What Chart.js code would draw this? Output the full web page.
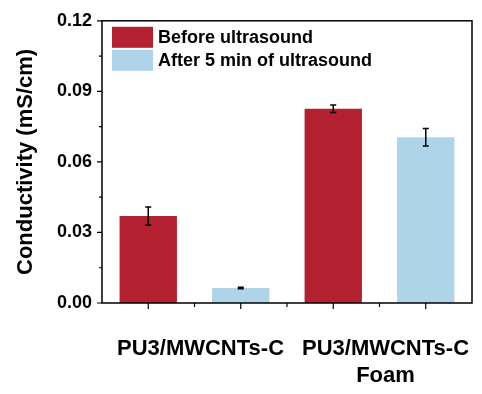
<!DOCTYPE html>
<html lang="en">
<head>
  <meta charset="UTF-8" />
  <title>Conductivity before and after ultrasound</title>
  <script src="https://cdn.jsdelivr.net/npm/chart.js"></script>
  <style>
    body {
      margin: 0;
      background: #ffffff;
    }
    canvas {
      display: block;
    }
  </style>
</head>
<body>
  <canvas id="condChart" width="482" height="394"></canvas>

  <script>
    // sample groups (second one wraps onto two lines)
    const categories = ["PU3/MWCNTs-C", ["PU3/MWCNTs-C", "Foam"]];
    const seriesNames = ["Before ultrasound", "After 5 min of ultrasound"];
    const beforeValues = [0.037, 0.0826];
    const beforeErrors = [0.0038, 0.0016];
    const afterValues = [0.0064, 0.0705];
    const afterErrors = [0.0003, 0.0037];
    const yTicks = [0, 0.03, 0.06, 0.09, 0.12];

    const FONT = "'Liberation Sans', Arial, sans-serif";

    // box around the plot plus the small outward tick marks
    const framePlugin = {
      id: "frame",
      afterDraw(chart) {
        const { ctx, chartArea: a, scales } = chart;
        ctx.save();
        ctx.strokeStyle = "#000";
        ctx.lineWidth = 1.5;
        ctx.strokeRect(a.left, a.top, a.right - a.left, a.bottom - a.top);

        ctx.lineWidth = 1.2;
        ctx.beginPath();
        // y: major ticks at labels, minor in between
        yTicks.forEach((v, i) => {
          const y = scales.y.getPixelForValue(v);
          ctx.moveTo(a.left - 5, y);
          ctx.lineTo(a.left, y);
          if (i < yTicks.length - 1) {
            const ym = scales.y.getPixelForValue((v + yTicks[i + 1]) / 2);
            ctx.moveTo(a.left - 3, ym);
            ctx.lineTo(a.left, ym);
          }
        });
        // x: major ticks under each bar, minor between them
        const centers = [];
        chart.data.datasets.forEach((ds, i) => {
          chart.getDatasetMeta(i).data.forEach(bar => centers.push(bar.x));
        });
        centers.sort((p, q) => p - q);
        centers.forEach((x, i) => {
          ctx.moveTo(x, a.bottom);
          ctx.lineTo(x, a.bottom + 6);
          if (i < centers.length - 1) {
            const xm = (x + centers[i + 1]) / 2;
            ctx.moveTo(xm, a.bottom);
            ctx.lineTo(xm, a.bottom + 4);
          }
        });
        ctx.stroke();
        ctx.restore();
      }
    };

    // error bars drawn from the data arrays through the y scale
    const errorBarPlugin = {
      id: "errorBars",
      afterDatasetsDraw(chart) {
        const { ctx, scales } = chart;
        ctx.save();
        ctx.strokeStyle = "#000";
        ctx.lineWidth = 1.5;
        chart.data.datasets.forEach((ds, i) => {
          chart.getDatasetMeta(i).data.forEach((bar, j) => {
            const v = ds.data[j];
            const e = ds.errors[j];
            const yTop = scales.y.getPixelForValue(v + e);
            const yBot = scales.y.getPixelForValue(v - e);
            ctx.beginPath();
            ctx.moveTo(bar.x, yTop);
            ctx.lineTo(bar.x, yBot);
            ctx.moveTo(bar.x - 3, yTop);
            ctx.lineTo(bar.x + 3, yTop);
            ctx.moveTo(bar.x - 3, yBot);
            ctx.lineTo(bar.x + 3, yBot);
            ctx.stroke();
          });
        });
        ctx.restore();
      }
    };

    // legend tucked into the top-left corner of the plot
    const insideLegend = {
      id: "insideLegend",
      afterDraw(chart) {
        const { ctx, chartArea: a } = chart;
        ctx.save();
        ctx.font = "bold 18px " + FONT;
        ctx.textBaseline = "middle";
        chart.data.datasets.forEach((ds, i) => {
          const y = a.top + 6 + i * 23;
          ctx.fillStyle = ds.backgroundColor;
          ctx.fillRect(a.left + 10, y, 41, 21);
          ctx.fillStyle = "#000";
          ctx.fillText(ds.label, a.left + 56, y + 11);
        });
        ctx.restore();
      }
    };

    new Chart(document.getElementById("condChart"), {
      type: "bar",
      data: {
        labels: categories,
        datasets: [
          {
            label: seriesNames[0],
            data: beforeValues,
            errors: beforeErrors,
            backgroundColor: "#b3202f"
          },
          {
            label: seriesNames[1],
            data: afterValues,
            errors: afterErrors,
            backgroundColor: "#add4e8"
          }
        ]
      },
      options: {
        responsive: false,
        devicePixelRatio: 1,
        animation: false,
        categoryPercentage: 1,
        barPercentage: 0.62,
        layout: { padding: { top: 13, right: 10, left: 0, bottom: 0 } },
        plugins: {
          legend: { display: false },
          tooltip: { enabled: false }
        },
        scales: {
          x: {
            grid: { display: false, drawTicks: false },
            border: { display: false },
            ticks: {
              color: "#000",
              padding: 33,
              labelOffset: 6,
              maxRotation: 0,
              autoSkip: false,
              font: { family: FONT, size: 22, weight: "bold" }
            },
            afterFit(scale) {
              scale.height = 91;
              // long bottom labels may spill past the plot edges
              scale.paddingLeft = 0;
              scale.paddingRight = 0;
            }
          },
          y: {
            min: 0,
            max: 0.12,
            grid: { display: false, drawTicks: false },
            border: { display: false },
            ticks: {
              stepSize: 0.03,
              color: "#000",
              padding: 10,
              font: { family: FONT, size: 18, weight: "bold" },
              callback: v => v.toFixed(2)
            },
            title: {
              display: true,
              text: "Conductivity (mS/cm)",
              color: "#000",
              padding: { top: 13, bottom: 0 },
              font: { family: FONT, size: 22, weight: "bold" }
            },
            afterFit(scale) { scale.width = 102; }
          }
        }
      },
      plugins: [errorBarPlugin, framePlugin, insideLegend]
    });
  </script>
</body>
</html>
